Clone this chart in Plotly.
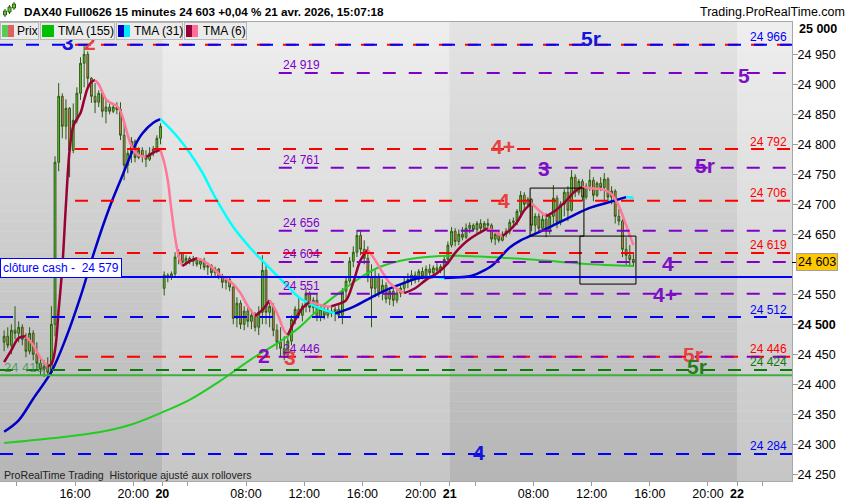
import plotly.graph_objects as go

# DAX40 Full0626, 15 minute bars
# Fri 17 Apr 11:00-21:45 (44 bars), Mon 20 Apr 02:15-21:45 (79), Tue 21 Apr 02:15-14:45 (51)
open_ = [
    24470, 24480, 24465, 24490, 24485, 24495, 24475, 24455, 24485, 24450,
    24435, 24425, 24430, 24420, 24500, 24770, 24880, 24830, 24860, 24790,
    24840, 24885, 24935, 24950, 24910, 24880, 24870, 24885, 24855, 24862,
    24855, 24862, 24858, 24815, 24765, 24785, 24805, 24778, 24790, 24780,
    24775, 24785, 24792, 24810,
    24560, 24582, 24578, 24584, 24612, 24618, 24603, 24610, 24605, 24609,
    24600, 24606, 24595, 24598, 24586, 24592, 24580, 24570, 24575, 24562,
    24510, 24535, 24500, 24522, 24505, 24515, 24495, 24520, 24590, 24520,
    24530, 24490, 24470, 24460, 24450, 24472, 24508, 24525, 24515, 24530,
    24550, 24528, 24540, 24512, 24525, 24515, 24522, 24518, 24525, 24515,
    24555, 24572, 24605, 24620, 24648, 24625, 24610, 24578, 24560, 24580,
    24552, 24565, 24542, 24555, 24540, 24552, 24560, 24570, 24575, 24582,
    24575, 24588, 24580, 24592, 24586, 24594, 24590, 24596, 24608,
    24632, 24655, 24638, 24650, 24645, 24660, 24665, 24658, 24668, 24660,
    24668, 24665, 24642, 24650, 24640, 24650, 24655, 24670, 24672, 24688,
    24715, 24700, 24708, 24665, 24680, 24660, 24675, 24655, 24680, 24710,
    24670, 24700, 24720, 24690, 24745, 24720, 24738, 24712, 24730, 24740,
    24715, 24735, 24728, 24742, 24712, 24722, 24680, 24672, 24625, 24615,
    24608,
]
high = [
    24490, 24495, 24500, 24530, 24505, 24500, 24485, 24495, 24490, 24470,
    24445, 24440, 24445, 24530, 24780, 24902, 24885, 24875, 24862, 24868,
    24895, 24945, 24965, 24955, 24912, 24902, 24890, 24888, 24874, 24868,
    24868, 24870, 24870, 24835, 24790, 24812, 24808, 24795, 24795, 24790,
    24795, 24797, 24815, 24835,
    24588, 24585, 24588, 24620, 24625, 24620, 24615, 24613, 24614, 24612,
    24610, 24611, 24603, 24600, 24596, 24594, 24584, 24578, 24577, 24565,
    24545, 24540, 24530, 24528, 24525, 24520, 24530, 24615, 24598, 24540,
    24535, 24500, 24495, 24480, 24478, 24515, 24530, 24545, 24535, 24560,
    24555, 24545, 24550, 24530, 24535, 24530, 24532, 24530, 24535, 24560,
    24580, 24612, 24630, 24657, 24655, 24640, 24630, 24600, 24590, 24585,
    24575, 24570, 24560, 24560, 24558, 24565, 24578, 24585, 24590, 24588,
    24592, 24595, 24598, 24600, 24598, 24602, 24600, 24612, 24638,
    24662, 24660, 24658, 24662, 24668, 24670, 24668, 24672, 24675, 24672,
    24676, 24668, 24655, 24655, 24655, 24660, 24675, 24678, 24692, 24722,
    24720, 24712, 24710, 24685, 24685, 24682, 24685, 24685, 24732, 24715,
    24705, 24725, 24730, 24757, 24750, 24742, 24742, 24735, 24758, 24745,
    24738, 24745, 24752, 24745, 24730, 24725, 24692, 24675, 24645, 24632,
    24620,
]
low = [
    24455, 24460, 24450, 24475, 24470, 24465, 24445, 24450, 24440, 24425,
    24415, 24412, 24415, 24415, 24480, 24755, 24810, 24808, 24745, 24785,
    24835, 24874, 24895, 24895, 24869, 24852, 24862, 24845, 24835, 24850,
    24852, 24850, 24807, 24740, 24752, 24769, 24770, 24775, 24770, 24762,
    24772, 24780, 24785, 24800,
    24548, 24570, 24574, 24580, 24600, 24598, 24598, 24600, 24597, 24596,
    24592, 24590, 24582, 24580, 24578, 24575, 24560, 24558, 24555, 24500,
    24495, 24492, 24490, 24495, 24492, 24488, 24482, 24500, 24500, 24495,
    24480, 24458, 24445, 24440, 24445, 24465, 24500, 24510, 24505, 24520,
    24520, 24518, 24505, 24505, 24508, 24510, 24512, 24505, 24510, 24500,
    24540, 24568, 24595, 24612, 24615, 24600, 24570, 24495, 24545, 24545,
    24540, 24535, 24532, 24530, 24535, 24545, 24552, 24560, 24565, 24568,
    24570, 24575, 24578, 24580, 24582, 24585, 24585, 24580, 24600,
    24628, 24630, 24632, 24640, 24642, 24652, 24655, 24652, 24655, 24655,
    24660, 24636, 24632, 24636, 24638, 24645, 24650, 24660, 24665, 24680,
    24690, 24698, 24655, 24650, 24652, 24655, 24645, 24650, 24665, 24660,
    24665, 24680, 24672, 24688, 24712, 24715, 24705, 24708, 24722, 24705,
    24712, 24722, 24705, 24705, 24700, 24668, 24665, 24612, 24598, 24597,
    24596,
]
close = [
    24480, 24465, 24490, 24485, 24495, 24475, 24455, 24485, 24450, 24435,
    24425, 24430, 24420, 24500, 24770, 24880, 24830, 24860, 24790, 24840,
    24885, 24935, 24950, 24910, 24880, 24870, 24885, 24855, 24862, 24855,
    24862, 24858, 24815, 24765, 24785, 24805, 24778, 24790, 24780, 24775,
    24785, 24792, 24810, 24830,
    24582, 24578, 24584, 24612, 24618, 24603, 24610, 24605, 24609, 24600,
    24606, 24595, 24598, 24586, 24592, 24580, 24570, 24575, 24562, 24510,
    24535, 24500, 24522, 24505, 24515, 24495, 24520, 24590, 24520, 24530,
    24490, 24470, 24460, 24450, 24472, 24508, 24525, 24515, 24530, 24550,
    24528, 24540, 24512, 24525, 24515, 24522, 24518, 24525, 24515, 24555,
    24572, 24605, 24620, 24648, 24625, 24610, 24578, 24560, 24580, 24552,
    24565, 24542, 24555, 24540, 24552, 24560, 24570, 24575, 24582, 24575,
    24588, 24580, 24592, 24586, 24594, 24590, 24596, 24608, 24632,
    24655, 24638, 24650, 24645, 24660, 24665, 24658, 24668, 24660, 24668,
    24665, 24642, 24650, 24640, 24650, 24655, 24670, 24672, 24688, 24715,
    24700, 24708, 24665, 24680, 24660, 24675, 24655, 24680, 24710, 24670,
    24700, 24720, 24690, 24745, 24720, 24738, 24712, 24730, 24740, 24715,
    24735, 24728, 24742, 24712, 24722, 24680, 24672, 24625, 24615, 24608,
    24603,
]

# indicator readings (bar index -> value)
tma155_bar = [0, 13, 26, 35, 43, 51, 59, 68, 76, 81, 87, 92, 98, 103, 109,
              114, 120, 126, 131, 137, 145, 153, 159, 165, 173]
tma155 = [24302, 24310, 24320, 24333, 24352, 24374, 24404, 24442, 24472, 24494,
          24528, 24552, 24578, 24595, 24606, 24611, 24614, 24614, 24613, 24611,
          24608, 24604, 24601, 24599, 24597]

tma31_bar = [0, 4, 8, 13, 17, 21, 25, 29, 32, 36, 38, 41, 43, 48, 54, 58, 63, 68,
             72, 78, 81, 87, 91, 96, 101, 105, 110, 114, 118, 121, 124, 128, 131,
             134, 136, 139, 142, 145, 150, 156, 161, 166, 171, 173]
tma31 = [24321, 24340, 24376, 24421, 24477, 24546, 24625, 24695, 24740, 24798,
         24818, 24836, 24842, 24810, 24758, 24712, 24662, 24625, 24600, 24563,
         24545, 24526, 24518, 24529, 24545, 24557, 24569, 24577, 24579, 24577,
         24578, 24580, 24587, 24597, 24609, 24628, 24640, 24648, 24662, 24680,
         24694, 24703, 24712, 24711]

tma6_bar = [0, 2, 4, 6, 8, 10, 12,
            13, 14, 15, 16, 17, 18, 19, 20, 21, 22, 23, 24, 25, 26, 27, 28, 29, 30,
            31, 32, 33, 34, 35, 36, 37, 38, 39, 40, 41, 42, 43,
            44, 45, 46, 47, 48, 49,
            51, 53, 55, 57, 59, 61, 63, 65, 67, 69, 71, 73, 75, 77, 78,
            80, 82, 84, 86, 88, 90, 92, 94, 96, 98, 100, 102, 104, 106, 108, 110,
            113, 116, 119, 122, 124, 126, 128, 130, 132, 133,
            135, 137, 139, 141, 143, 145, 147, 149, 151, 153, 155, 157, 159, 161,
            163, 165, 167, 169, 171, 173]
tma6 = [24437, 24457, 24477, 24480, 24465, 24444, 24430,
        24434, 24457, 24524, 24595, 24700, 24790, 24830, 24842, 24852, 24874, 24894,
        24904, 24907, 24900, 24887, 24875, 24870, 24867,
        24864, 24855, 24837, 24815, 24797, 24787, 24782, 24780, 24779, 24782, 24786,
        24789, 24790,
        24770, 24740, 24690, 24645, 24613, 24597,
        24605, 24610, 24605, 24596, 24584, 24576, 24567, 24552, 24530, 24514, 24524,
        24540, 24519, 24489, 24482,
        24507, 24527, 24537, 24534, 24530, 24530, 24534, 24540, 24570, 24607, 24624,
        24607, 24587, 24569, 24559, 24552,
        24560, 24574, 24585, 24602, 24619, 24632, 24642, 24650, 24657, 24660,
        24654, 24647, 24657, 24670, 24690, 24702, 24690, 24680, 24687, 24697, 24709,
        24722, 24729, 24727, 24726, 24724, 24717, 24697, 24665, 24632]

# x axis: bar index where each labelled time starts
tick_bar = [3.5, 19.5, 35.5, 43.5, 50.5, 66.5, 82.5, 98.5, 114.5, 122.5, 129.5,
            145.5, 161.5, 177.5, 193.5, 201.5, 208.5]
tick_text = ["", "16:00", "20:00", "<b>20</b>", "", "08:00", "12:00", "16:00",
             "20:00", "<b>21</b>", "", "08:00", "12:00", "16:00", "20:00",
             "<b>22</b>", ""]
day_start = [43.5, 122.5, 201.5]

# drawn levels
blue_levels = [24966, 24512, 24284]
red_levels = [24966, 24792, 24706, 24619, 24446]
purple_levels = [24919, 24761, 24656, 24604, 24551, 24446]
green_dash_level = 24424
green_line_level = 24415
cash_close = 24579
last_price = 24603

tag_text = ["3", "2", "5r", "5", "4+", "5r", "3", "4", "4", "4+", "2", "3", "5r", "5r", "4"]
tag_kind = ["blue", "red", "blue", "purple", "red", "purple", "purple", "red",
            "purple", "purple", "purple", "red", "red", "green", "blue"]
tag_bar = [17.6, 23.6, 161.4, 203.4, 137.2, 192.7, 148.4, 137.4, 182.5, 181.7,
           71.5, 78.6, 189.4, 190.5, 130.6]
tag_price = [24970, 24970, 24977, 24915, 24796, 24765, 24759, 24707, 24602, 24550,
             24448, 24445, 24449, 24429, 24287]

box_bar0 = [144.6, 158.3]
box_bar1 = [159.4, 173.7]
box_lo = [24647, 24567]
box_hi = [24727, 24647]

# ---- styling ---------------------------------------------------------
X0, X1 = -1.13, 216.6
Y0, Y1 = 24238.8, 25003.8
FONT = "Liberation Sans, Arial, sans-serif"
LINE_COL = {"blue": "#0000ff", "red": "#ff0000", "purple": "#7f00c8", "green": "#0a7a0a"}
TAG_COL = {"blue": "#1414dc", "red": "#e8403c", "purple": "#7d0fc4", "green": "#1f7f1f"}
RED_FROM = 19.5
PURPLE_FROM = 75.5
DASH = "13px,13px"


def pxx(p):
    return p / 792.0


def pxy(p):
    return (481.0 - p) / 459.0


def mix(c0, c1, f):
    a = [int(c0[i:i + 2], 16) for i in (1, 3, 5)]
    b = [int(c1[i:i + 2], 16) for i in (1, 3, 5)]
    return "rgb(%d,%d,%d)" % tuple(round(p + (q - p) * f) for p, q in zip(a, b))


fig = go.Figure()
shapes = []

# session background: vertical gradient built from thin bands
edges = [X0] + day_start + [X1]
N = 46
for i in range(len(edges) - 1):
    bot, top = ("#b6b6b6", "#e3e3e3") if i % 2 == 0 else ("#c6c6c6", "#eeeeee")
    for k in range(N):
        shapes.append(dict(type="rect", xref="x", yref="y", layer="below",
                           x0=edges[i], x1=edges[i + 1],
                           y0=Y0 + (Y1 - Y0) * k / N, y1=Y0 + (Y1 - Y0) * (k + 1) / N,
                           fillcolor=mix(bot, top, (k + 0.5) / N), line=dict(width=0)))

bars = list(range(len(close)))
fig.add_trace(go.Candlestick(
    x=bars, open=open_, high=high, low=low, close=close,
    increasing=dict(line=dict(color="#2b5a12", width=1), fillcolor="#66cc3a"),
    decreasing=dict(line=dict(color="#2b5a12", width=1), fillcolor="#ee7a66"),
    whiskerwidth=0, hoverinfo="skip"))


def two_tone(xs, ys, up, down, width):
    start, rising = 0, None
    runs = []
    for i in range(1, len(ys)):
        d = rising if ys[i] == ys[i - 1] else ys[i] > ys[i - 1]
        if rising is None:
            rising = d
        elif d != rising:
            runs.append((start, i - 1, rising))
            start, rising = i - 1, d
    runs.append((start, len(ys) - 1, rising))
    for s, e, r in runs:
        fig.add_trace(go.Scatter(
            x=xs[s:e + 1], y=ys[s:e + 1], mode="lines",
            line=dict(color=up if r else down, width=width, shape="spline"),
            hoverinfo="skip"))


fig.add_trace(go.Scatter(x=tma155_bar, y=tma155, mode="lines",
                         line=dict(color="#22cc22", width=2, shape="spline"),
                         hoverinfo="skip"))
two_tone(tma31_bar, tma31, "#0000c8", "#00ffff", 2.5)
two_tone(tma6_bar, tma6, "#990033", "#ff7799", 2.5)


def hline(y, x0, color, dash=DASH, width=2):
    fig.add_trace(go.Scatter(x=[x0, X1], y=[y, y], mode="lines",
                             line=dict(color=color, width=width, dash=dash),
                             hoverinfo="skip"))


for v in red_levels:
    hline(v, RED_FROM, LINE_COL["red"])
for v in blue_levels:
    hline(v, X0, LINE_COL["blue"])
for v in purple_levels:
    hline(v, PURPLE_FROM, LINE_COL["purple"])
hline(green_dash_level, X0, LINE_COL["green"])
hline(cash_close, X0, "#0000ff", dash="solid")
hline(green_line_level, X0, "#3cb03c", dash="solid")

for a, b, lo, hi in zip(box_bar0, box_bar1, box_lo, box_hi):
    shapes.append(dict(type="rect", xref="x", yref="y", x0=a, x1=b, y0=lo, y1=hi,
                       line=dict(color="black", width=1)))
# last price tick on the axis
shapes.append(dict(type="line", xref="paper", yref="y", x0=1, x1=1 + 5 / 792,
                   y0=last_price, y1=last_price, line=dict(color="black", width=1)))
# small candle icon in the title bar
for cx, yb, yt, wb, wt in [(5, 15, 11, 17, 9), (9.5, 12, 7, 14, 5), (14, 8, 4, 10, 2)]:
    shapes.append(dict(type="line", xref="paper", yref="paper", x0=pxx(cx), x1=pxx(cx),
                       y0=pxy(wb), y1=pxy(wt), line=dict(color="#2b5a12", width=1)))
    shapes.append(dict(type="rect", xref="paper", yref="paper", x0=pxx(cx - 1.5),
                       x1=pxx(cx + 1.5), y0=pxy(yb), y1=pxy(yt),
                       fillcolor="#66cc3a", line=dict(color="#2b5a12", width=1)))


def fmt(v):
    return f"{v:,}".replace(",", " ")


ann = []
for t, k, b, p in zip(tag_text, tag_kind, tag_bar, tag_price):
    ann.append(dict(x=b, y=p, xref="x", yref="y", text=t, showarrow=False,
                    yanchor="middle",
                    font=dict(family=FONT, size=21, color=TAG_COL[k], weight="bold")))

for v in purple_levels:
    ann.append(dict(x=PURPLE_FROM + 0.6, y=v, xref="x", yref="y", xanchor="left",
                    yanchor="middle", yshift=7.5, text=fmt(v), showarrow=False,
                    font=dict(family=FONT, size=12, color=LINE_COL["purple"])))

right_labels = [(v, "blue") for v in blue_levels]
right_labels += [(v, "red") for v in red_levels if v not in blue_levels]
right_labels.append((green_dash_level, "green"))
for v, k in right_labels:
    ann.append(dict(x=pxx(789), y=v, xref="paper", yref="y", xanchor="right",
                    yanchor="middle", yshift=7.5, text=fmt(v), showarrow=False,
                    font=dict(family=FONT, size=12, color=LINE_COL[k])))

ann.append(dict(x=pxx(2), y=green_line_level, xref="paper", yref="y", xanchor="left",
                yanchor="middle", yshift=8, text=fmt(green_line_level), showarrow=False,
                font=dict(family=FONT, size=13, color="rgba(50,150,70,0.8)")))
ann.append(dict(x=pxx(0), y=cash_close, xref="paper", yref="y", xanchor="left",
                yanchor="bottom", yshift=-1,
                text="clôture cash -&nbsp; " + fmt(cash_close),
                showarrow=False, bgcolor="white", bordercolor="#0000ff", borderwidth=1,
                borderpad=2, font=dict(family=FONT, size=12, color="#0000ff")))
ann.append(dict(x=1, xshift=4, y=last_price, xref="paper", yref="y", xanchor="left",
                yanchor="middle", text=fmt(last_price), showarrow=False,
                bgcolor="#ffc800", bordercolor="#a0a0a0", borderwidth=1, borderpad=1,
                font=dict(family=FONT, size=12.5, color="black")))
# top price label sits inside the frame, as in the reference
ann.append(dict(x=1, xshift=5, y=pxy(29), xref="paper", yref="paper", xanchor="left",
                yanchor="middle", text="<b>25 000</b>", showarrow=False,
                font=dict(family=FONT, size=12.5, color="black")))

ann.append(dict(x=pxx(22), y=pxy(12), xref="paper", yref="paper", xanchor="left",
                yanchor="middle",
                text="DAX40 Full0626 15 minutes 24 603 +0,04 % 21 avr. 2026, 15:07:18",
                showarrow=False, font=dict(family=FONT, size=11.7, color="black",
                                           weight="bold")))
ann.append(dict(x=pxx(847), y=pxy(12), xref="paper", yref="paper", xanchor="right",
                yanchor="middle", text="Trading.ProRealTime.com", showarrow=False,
                font=dict(family=FONT, size=12.5, color="black")))
ann.append(dict(x=pxx(2), y=pxy(475), xref="paper", yref="paper", xanchor="left",
                yanchor="middle",
                text="ProRealTime Trading&nbsp; Historique ajusté aux rollovers",
                showarrow=False, font=dict(family=FONT, size=10.6, color="#222222")))

legend = [("Prix", 0, 39, ["#55cc55", "#e06060"], 15),
          ("TMA (155)", 40, 115, ["#00c000", "#00c000"], 56),
          ("TMA (31)", 116, 183, ["#0000c0", "#00e8ff"], 132),
          ("TMA (6)", 184, 247, ["#99003a", "#ff6f9a"], 201)]
for name, x0, x1, cols, tx in legend:
    ann.append(dict(x=pxx(x0), y=pxy(31), xref="paper", yref="paper", xanchor="left",
                    yanchor="middle", text=" ", width=x1 - x0 - 2, height=16,
                    showarrow=False, bgcolor="#ebebeb", bordercolor="#b8b8b8",
                    borderwidth=1, borderpad=0))
    for j, c in enumerate(cols):
        ann.append(dict(x=pxx(x0 + 2 + 6 * j), y=pxy(31), xref="paper", yref="paper",
                        xanchor="left", yanchor="middle", text=" ", width=6, height=12,
                        showarrow=False, bgcolor=c, borderpad=0, borderwidth=0))
    ann.append(dict(x=pxx(tx), y=pxy(31), xref="paper", yref="paper", xanchor="left",
                    yanchor="middle", text=name, showarrow=False,
                    font=dict(family=FONT, size=12, color="black")))

y_ticks = [v for v in range(24250, 25000, 50) if v != 24600]
y_text = [("<b>%s</b>" if v % 500 == 0 else "%s") % fmt(v) for v in y_ticks]

fig.update_layout(
    width=850, height=500, margin=dict(l=0, r=58, t=22, b=19, autoexpand=False),
    paper_bgcolor="white", plot_bgcolor="#dddddd", showlegend=False,
    hovermode=False, font=dict(family=FONT, size=12, color="black"),
    shapes=shapes, annotations=ann,
    xaxis=dict(range=[X0, X1], tickvals=tick_bar, ticktext=tick_text,
               ticks="outside", ticklen=4, tickcolor="#999999", showline=True,
               linecolor="#a8a8a8", mirror=True, showgrid=False, zeroline=False,
               rangeslider=dict(visible=False), tickfont=dict(size=12.5),
               automargin=False, ticklabelstandoff=-3, fixedrange=True),
    yaxis=dict(range=[Y0, Y1], side="right", tickvals=y_ticks, ticktext=y_text,
               ticks="outside", ticklen=5, tickcolor="#999999", showline=True,
               linecolor="#a8a8a8", mirror=True, showgrid=False, zeroline=False,
               tickfont=dict(size=12.5), ticklabelstandoff=-3, automargin=False,
               fixedrange=True),
)

fig.write_html("out.html", config={"displayModeBar": False},
               post_script="document.body.style.margin='0';")
